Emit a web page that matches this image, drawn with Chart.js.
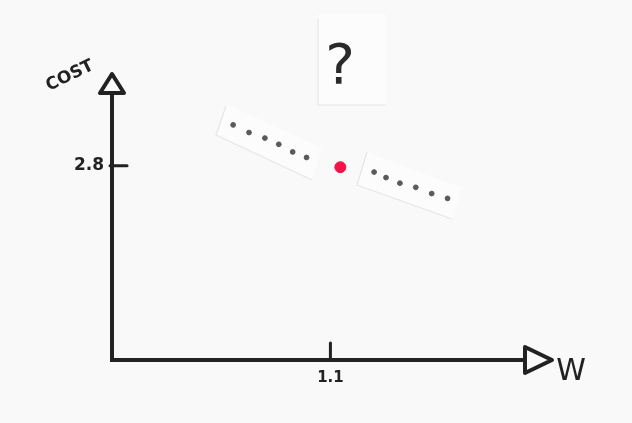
<!DOCTYPE html>
<html>
<head>
<meta charset="utf-8">
<script src="https://cdn.jsdelivr.net/npm/chart.js@4"></script>
<style>
  html, body { margin: 0; padding: 0; background: #f9f9f9; }
  #wrap { width: 632px; height: 423px; position: relative; }
</style>
</head>
<body>
<div id="wrap"><canvas id="costChart"></canvas></div>
<script>
// values
const leftDotsW = [0.61, 0.69, 0.77, 0.84, 0.91, 0.98];
const leftDotsCost = [3.39, 3.28, 3.20, 3.11, 3.00, 2.92];
const rightDotsW = [1.32, 1.38, 1.45, 1.53, 1.61, 1.69];
const rightDotsCost = [2.71, 2.63, 2.55, 2.49, 2.40, 2.33];
const pointW = [1.15];
const pointCost = [2.78];
const wTicks = [1.1];
const costTicks = [2.8];
const wMax = 2.08;
const costMax = 3.85;

const toXY = (xs, ys) => xs.map((x, i) => ({ x: x, y: ys[i] }));
const ink = '#222';
const bg = '#f9f9f9';
const handFont = '"DejaVu Sans", sans-serif';

// background, paper cards, inward ticks, arrows and labels
const sketchPlugin = {
  id: 'sketch',
  beforeDraw(chart) {
    const ctx = chart.ctx;
    ctx.save();
    ctx.fillStyle = bg;
    ctx.fillRect(0, 0, chart.width, chart.height);
    // faint paper cut-outs, only the shadowed edges show
    ctx.fillStyle = '#fcfcfc';
    ctx.strokeStyle = '#e6e6e6';
    ctx.lineWidth = 1.2;
    const cards = [
      [[386, 105], [318, 105], [318, 18]],
      [[226, 106], [216, 135], [312, 180]],
      [[367, 152], [357, 185], [452, 219]]
    ];
    const fills = [
      [[318, 14], [386, 14], [386, 105], [318, 105]],
      [[226, 104], [322, 148], [312, 180], [216, 135]],
      [[367, 152], [462, 188], [452, 219], [357, 185]]
    ];
    fills.forEach(c => {
      ctx.beginPath();
      ctx.moveTo(c[0][0], c[0][1]);
      c.slice(1).forEach(p => ctx.lineTo(p[0], p[1]));
      ctx.closePath();
      ctx.fill();
    });
    cards.forEach(c => {
      ctx.beginPath();
      ctx.moveTo(c[0][0], c[0][1]);
      c.slice(1).forEach(p => ctx.lineTo(p[0], p[1]));
      ctx.stroke();
    });
    ctx.restore();
  },
  afterDraw(chart) {
    const ctx = chart.ctx;
    const area = chart.chartArea;
    const xs = chart.scales.x;
    const ys = chart.scales.y;
    ctx.save();
    ctx.strokeStyle = ink;
    ctx.fillStyle = ink;
    ctx.lineWidth = 3;
    ctx.lineCap = 'round';
    ctx.lineJoin = 'round';

    // ticks point into the plot
    costTicks.forEach(v => {
      const py = ys.getPixelForValue(v);
      ctx.beginPath();
      ctx.moveTo(area.left - 2, py);
      ctx.lineTo(area.left + 15, py);
      ctx.stroke();
    });
    wTicks.forEach(v => {
      const px = xs.getPixelForValue(v);
      ctx.beginPath();
      ctx.moveTo(px, area.bottom);
      ctx.lineTo(px, area.bottom - 17);
      ctx.stroke();
    });

    // hollow arrow heads
    ctx.lineWidth = 4;
    ctx.fillStyle = bg;
    ctx.beginPath();
    ctx.moveTo(area.left - 12, area.top);
    ctx.lineTo(area.left + 12, area.top);
    ctx.lineTo(area.left, area.top - 19);
    ctx.closePath();
    ctx.fill();
    ctx.stroke();

    ctx.beginPath();
    ctx.moveTo(area.right, area.bottom - 13);
    ctx.lineTo(area.right, area.bottom + 13);
    ctx.lineTo(area.right + 27, area.bottom);
    ctx.closePath();
    ctx.fill();
    ctx.stroke();

    // axis names
    ctx.fillStyle = ink;
    ctx.textAlign = 'center';
    ctx.textBaseline = 'middle';
    ctx.save();
    ctx.translate(70, 76);
    ctx.rotate(-0.45);
    ctx.font = 'bold 17px ' + handFont;
    ctx.fillText('COST', 0, 0);
    ctx.restore();

    ctx.font = '30px ' + handFont;
    ctx.fillText('W', 571, 372);

    ctx.font = '56px ' + handFont;
    ctx.fillStyle = '#2a2a2a';
    ctx.fillText('?', 340, 68);
    ctx.restore();
  }
};

new Chart(document.getElementById('costChart'), {
  type: 'scatter',
  data: {
    datasets: [
      {
        label: 'Cost at w',
        data: toXY(pointW, pointCost),
        backgroundColor: '#f41248',
        borderColor: '#f41248',
        pointRadius: 5.5
      },
      {
        label: 'Left',
        data: toXY(leftDotsW, leftDotsCost),
        backgroundColor: '#5a5a5a',
        borderColor: '#5a5a5a',
        pointRadius: 2.4
      },
      {
        label: 'Right',
        data: toXY(rightDotsW, rightDotsCost),
        backgroundColor: '#5a5a5a',
        borderColor: '#5a5a5a',
        pointRadius: 2.4
      }
    ]
  },
  options: {
    responsive: true,
    maintainAspectRatio: false,
    animation: false,
    layout: { padding: { top: 93, right: 107, left: 0, bottom: 0 } },
    plugins: {
      legend: { display: false },
      tooltip: { enabled: false }
    },
    scales: {
      x: {
        type: 'linear',
        min: 0,
        max: wMax,
        afterFit: s => { s.height = 63; },
        afterBuildTicks: s => { s.ticks = wTicks.map(v => ({ value: v })); },
        grid: { display: false, drawTicks: false },
        border: { display: true, color: ink, width: 4 },
        ticks: {
          padding: 9,
          color: ink,
          font: { family: handFont, size: 15, weight: 'bold' },
          callback: v => v.toFixed(1)
        }
      },
      y: {
        type: 'linear',
        min: 0,
        max: costMax,
        afterFit: s => { s.width = 112; },
        afterBuildTicks: s => { s.ticks = costTicks.map(v => ({ value: v })); },
        grid: { display: false, drawTicks: false },
        border: { display: true, color: ink, width: 4 },
        ticks: {
          padding: 8,
          color: ink,
          font: { family: handFont, size: 17, weight: 'bold' },
          callback: v => v.toFixed(1)
        }
      }
    }
  },
  plugins: [sketchPlugin]
});
</script>
</body>
</html>
